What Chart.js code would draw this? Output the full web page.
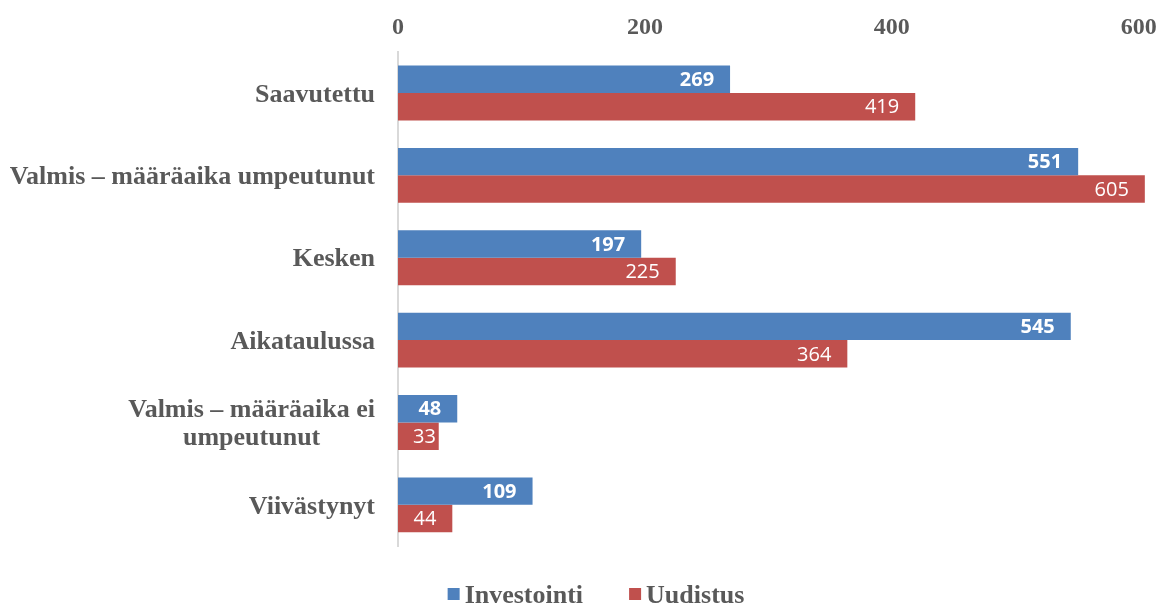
<!DOCTYPE html>
<html>
<head>
<meta charset="utf-8">
<script src="https://cdn.jsdelivr.net/npm/chart.js@4.4.0/dist/chart.umd.min.js"></script>
<style>
  body { margin: 0; background: #fff; }
  #wrap { width: 1169px; height: 606px; }
</style>
</head>
<body>
<div id="wrap"><canvas id="myChart" width="1169" height="606"></canvas></div>
<script>
const categories = [
  ["Saavutettu"],
  ["Valmis – määräaika umpeutunut"],
  ["Kesken"],
  ["Aikataulussa"],
  ["Valmis – määräaika ei", "umpeutunut"],
  ["Viivästynyt"],
];
const investointi = [269, 551, 197, 545, 48, 109];
const uudistus = [419, 605, 225, 364, 33, 44];
const xTicks = [0, 200, 400, 600];

const grey = "#595959";
const serif = "'Liberation Serif', 'Times New Roman', serif";

// category labels: block right aligned, lines centred inside the block
const catLabels = {
  id: "catLabels",
  afterDraw(chart) {
    const ctx = chart.ctx;
    const yScale = chart.scales.y;
    ctx.save();
    ctx.font = "bold 26px " + serif;
    ctx.fillStyle = grey;
    ctx.textBaseline = "middle";
    ctx.textAlign = "center";
    categories.forEach((lines, i) => {
      const yc = yScale.getPixelForValue(i) + 2;
      const widths = lines.map((l) => ctx.measureText(l).width);
      const maxW = Math.max(...widths);
      const right = 375;
      const lh = 28;
      lines.forEach((l, j) => {
        const y = yc + (j - (lines.length - 1) / 2) * lh;
        ctx.fillText(l, right - maxW / 2, y);
      });
    });
    ctx.restore();
  },
};

// value labels inside the bar ends (kept off the axis on short bars)
const valueLabels = {
  id: "valueLabels",
  afterDatasetsDraw(chart) {
    const ctx = chart.ctx;
    ctx.save();
    ctx.fillStyle = "#fff";
    ctx.textAlign = "right";
    ctx.textBaseline = "middle";
    chart.data.datasets.forEach((ds, di) => {
      const meta = chart.getDatasetMeta(di);
      ctx.font = (di === 0 ? "bold " : "") + "20px 'Open Sans', 'Noto Sans', sans-serif";
      meta.data.forEach((bar, i) => {
        const txt = String(ds.data[i]);
        const w = ctx.measureText(txt).width;
        const x = Math.max(bar.x - 16, bar.base + 15 + w);
        ctx.fillText(txt, x, bar.y + 1);
      });
    });
    ctx.restore();
  },
};

// legend drawn by hand so the box/text gaps match
const bottomLegend = {
  id: "bottomLegend",
  afterDraw(chart) {
    const ctx = chart.ctx;
    ctx.save();
    ctx.font = "bold 26px " + serif;
    ctx.textBaseline = "alphabetic";
    ctx.textAlign = "left";
    const box = 12, gap = 5, itemGap = 46;
    const items = chart.data.datasets.map((ds) => ({
      text: ds.label,
      color: ds.backgroundColor,
      w: box + gap + ctx.measureText(ds.label).width,
    }));
    const total = items.reduce((s, it) => s + it.w, 0) + itemGap * (items.length - 1);
    let x = 596 - total / 2;
    const baseline = 603;
    items.forEach((it) => {
      ctx.fillStyle = it.color;
      ctx.fillRect(x, baseline - 15, box, box);
      ctx.fillStyle = grey;
      ctx.fillText(it.text, x + box + gap, baseline);
      x += it.w + itemGap;
    });
    ctx.restore();
  },
};

const data = {
  labels: categories.map((c) => c.join(" ")),
  datasets: [
    {
      label: "Investointi",
      backgroundColor: "#4F81BD",
      data: investointi,
    },
    {
      label: "Uudistus",
      backgroundColor: "#C0504D",
      data: uudistus,
    },
  ],
};

const config = {
  type: "bar",
  data: data,
  options: {
    indexAxis: "y",
    responsive: false,
    animation: false,
    layout: { padding: { top: 3, right: 18, bottom: 60, left: 0 } },
    datasets: {
      bar: { categoryPercentage: 0.666, barPercentage: 1.0 },
    },
    scales: {
      x: {
        position: "top",
        min: 0,
        max: 610,
        afterBuildTicks: (scale) => {
          scale.ticks = xTicks.map((v) => ({ value: v }));
        },
        grid: { display: false, drawTicks: false },
        border: { display: false },
        ticks: {
          color: grey,
          padding: 10,
          font: { family: serif, size: 24, weight: "bold" },
        },
      },
      y: {
        afterFit: (scale) => {
          scale.width = 398;
        },
        grid: { display: false, drawTicks: false },
        border: { display: true, color: "#d9d9d9", width: 2 },
        ticks: { display: false },
      },
    },
    plugins: {
      tooltip: { enabled: false },
      legend: { display: false },
    },
  },
  plugins: [catLabels, valueLabels, bottomLegend],
};

const myChart = new Chart(document.getElementById("myChart"), config);
</script>
</body>
</html>
